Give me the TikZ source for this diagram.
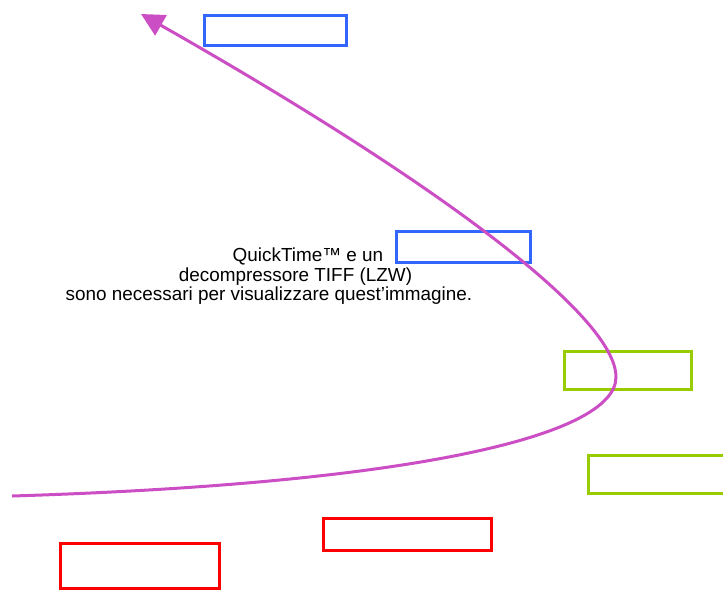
\documentclass[tikz,border=0pt]{standalone}
\usepackage{fontspec}
\setmainfont{Liberation Sans}
\usetikzlibrary{arrows.meta}
\definecolor{boxblue}{HTML}{3366FF}
\definecolor{boxgreen}{HTML}{99CC00}
\definecolor{boxred}{HTML}{FF0000}
\definecolor{curvemag}{HTML}{CC4EC4}
\begin{document}
\begin{tikzpicture}[x=1pt,y=-1pt,
  frame/.style={draw,line width=3pt,rectangle,inner sep=0pt,outer sep=0pt},
  caption/.style={font=\fontsize{18.9}{19.5}\selectfont,inner sep=0pt,anchor=base}]
\useasboundingbox (0,0) rectangle (723,590);
\begin{scope}
\clip (0,0) rectangle (723,590);
% empty frames
\node[frame,boxblue,minimum width=142pt,minimum height=30pt] (b1) at (275,30) {};
\node[frame,boxblue,minimum width=134pt,minimum height=31pt] (b2) at (463,246.5) {};
\node[frame,boxgreen,minimum width=127pt,minimum height=38pt] (g1) at (627.5,370) {};
\node[frame,boxgreen,minimum width=150pt,minimum height=38pt] (g2) at (663,474) {};
\node[frame,boxred,minimum width=159pt,minimum height=45pt] (r1) at (139.5,565.5) {};
\node[frame,boxred,minimum width=168pt,minimum height=32pt] (r2) at (407,534) {};
% placeholder message
\node[caption] (t1) at (308,261) {QuickTime™ e un};
\node[caption] (t2) at (295.5,281) {decompressore TIFF (LZW)};
\node[caption] (t3) at (269,300) {sono necessari per visualizzare quest\char"0027 immagine.};
% sweeping arrow
\coordinate (start) at (12,496);
\coordinate (turn) at (616,377);
\coordinate (tip) at (141,14);
\draw[curvemag,line width=3pt,-{Triangle[length=23pt,width=23pt]}]
  (start) .. controls (400,484) and (616,438) .. (turn)
          .. controls (616,317) and (442,185) .. (tip);
\end{scope}
\end{tikzpicture}
\end{document}
